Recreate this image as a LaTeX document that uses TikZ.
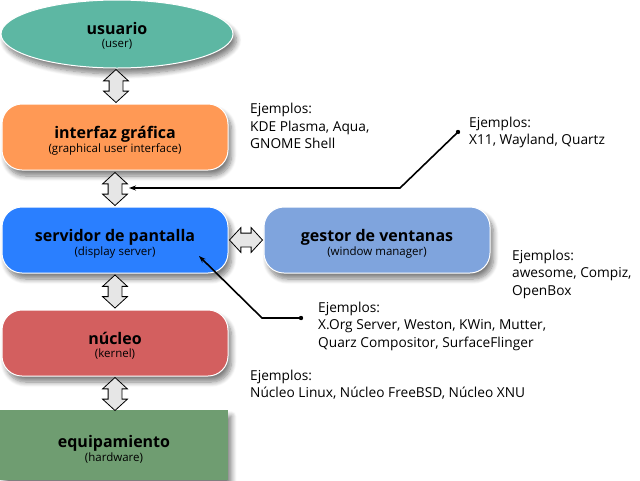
\documentclass[tikz,border=0pt]{standalone}
\usepackage{fontspec}
\setmainfont{Open Sans}
\usetikzlibrary{shapes.geometric,shapes.arrows,shadows.blur,calc,arrows.meta}
\definecolor{cuser}{HTML}{5DB7A3}
\definecolor{cgui}{HTML}{FF9955}
\definecolor{cds}{HTML}{2A7FFF}
\definecolor{cwm}{HTML}{7FA4DD}
\definecolor{ckern}{HTML}{D35F5F}
\definecolor{chw}{HTML}{6F9D71}
\definecolor{carrow}{HTML}{E6E6E6}
\tikzset{
  layer/.style={draw=white, line width=1pt, minimum width=226pt, minimum height=66pt,
    rounded corners=20pt, inner sep=0pt,
    blur shadow={shadow xshift=3.5pt, shadow yshift=-6pt, shadow blur steps=8, shadow blur radius=5pt, shadow opacity=50}},
  lbl/.style={align=center, inner sep=0pt},
  dbl/.style={double arrow, draw=black, fill=carrow, line width=0.8pt, inner sep=6.5pt,
    double arrow head extend=5.5pt, double arrow tip angle=95, minimum height=33pt},
  ex/.style={anchor=north west, align=left, inner sep=0pt, font=\fontsize{13.7}{17.6}\selectfont},
  ptr/.style={line width=1.6pt, -{Stealth[length=7pt,width=5pt]}},
}
\newcommand{\lay}[2]{{\fontsize{16}{19}\selectfont\bfseries #1}\\[0.5pt]{\fontsize{11.5}{13}\selectfont #2}}
\begin{document}
\begin{tikzpicture}[x=1pt,y=-1pt]
\useasboundingbox (0,0) rectangle (640,480);
\node[layer, ellipse, rounded corners=0pt, fill=cuser, minimum width=232pt, minimum height=68pt] (user) at (117,34) {};
\node[layer, fill=cgui] (gui) at (115,137) {};
\node[layer, fill=cds] (ds) at (115,240) {};
\node[layer, fill=cwm] (wm) at (377,240) {};
\node[layer, fill=ckern] (kern) at (115,343) {};
\node[layer, draw=none, rounded corners=0pt, fill=chw, minimum width=228pt, minimum height=70pt] (hw) at (114,445) {};

\node[lbl] (user-t) at ($(user.center)+(0,2)$) {\lay{usuario}{(user)}};
\node[lbl] (gui-t) at ($(gui.center)+(0,3.5)$) {\lay{interfaz gráfica}{(graphical user interface)}};
\node[lbl] (ds-t) at ($(ds.center)+(0,3.5)$) {\lay{servidor de pantalla}{(display server)}};
\node[lbl] (wm-t) at ($(wm.center)+(0,3.5)$) {\lay{gestor de ventanas}{(window manager)}};
\node[lbl] (kern-t) at ($(kern.center)+(0,3)$) {\lay{núcleo}{(kernel)}};
\node[lbl] (hw-t) at ($(hw.center)+(0,4)$) {\lay{equipamiento}{(hardware)}};

\node[dbl, rotate=90] (a1) at ($(user.south)!0.5!(gui.north)$) {};
\node[dbl, rotate=90] (a2) at (115,189) {};
\node[dbl, rotate=90] (a3) at ($(ds.south)!0.5!(kern.north)$) {};
\node[dbl, rotate=90] (a4) at (115,394) {};
\node[dbl] (a5) at ($(ds.east)!0.5!(wm.west)$) {};

\node[ex] (exgui) at (250,103) {Ejemplos:\\KDE Plasma, Aqua,\\GNOME Shell};
\node[ex] (exproto) at (469,116.5) {Ejemplos:\\X11, Wayland, Quartz};
\node[ex] (exwm) at (512,249.5) {Ejemplos:\\awesome, Compiz,\\OpenBox};
\node[ex] (exds) at (318,301.5) {Ejemplos:\\X.Org Server, Weston, KWin, Mutter,\\Quarz Compositor, SurfaceFlinger};
\node[ex] (exkern) at (250,369.5) {Ejemplos:\\Núcleo Linux, Núcleo FreeBSD, Núcleo XNU};

\coordinate (d1) at (458,132);
\coordinate (k1) at (400,188);
\coordinate (t1) at (129,188);
\coordinate (d2) at (301,318);
\coordinate (k2) at (262,318);
\coordinate (t2) at (199,256);
\fill (d1) circle (2.2pt);
\fill (d2) circle (2.2pt);
\draw[ptr] (d1) -- (k1) -- (t1);
\draw[ptr] (d2) -- (k2) -- (t2);
\end{tikzpicture}
\end{document}
